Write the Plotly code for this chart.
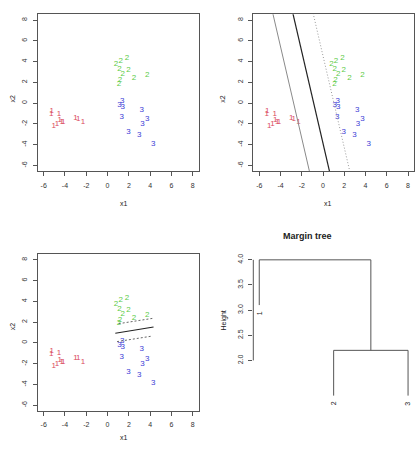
import plotly.graph_objects as go

# ---------------- data ----------------
class_labels = ["1", "2", "3"]
class_colors = ["#DA4A5E", "#5CCB48", "#3C3CD6"]

x1_class1 = [-5.25, -5.3, -4.55, -4.5, -4.3, -4.15, -4.75, -5.05, -3.0, -2.75, -2.3]
x2_class1 = [-0.75, -1.05, -1.0, -1.6, -1.8, -1.85, -2.0, -2.2, -1.45, -1.5, -1.85]
x1_class2 = [1.83, 1.23, 0.79, 1.11, 1.96, 1.42, 2.49, 3.72, 1.17, 1.08]
x2_class2 = [4.37, 4.11, 3.76, 3.28, 3.18, 2.80, 2.41, 2.70, 2.25, 1.87]
x1_class3 = [1.39, 1.11, 1.42, 3.22, 1.33, 3.72, 3.28, 1.96, 2.97, 4.29]
x2_class3 = [0.23, -0.19, -0.38, -0.61, -1.34, -1.54, -1.99, -2.76, -3.08, -3.91]

# panel 2: separating line (1 vs rest) and its margins: x2 = intercept + slope * x1
sep_slope = -4.414
sep_intercepts = [-12.2, -3.87, 4.55]

# panel 3: separating line (2 vs 3) segments and margins
seg_x_start = [0.89, 0.73, 1.05]
seg_x_end = [4.22, 4.32, 4.22]
seg_y_start = [0.12, 0.92, 1.85]
seg_y_end = [0.66, 1.53, 2.36]

# panel 4: margin tree
leaf_labels = ["1", "2", "3"]
merge_heights = [2.2, 4.0]   # (2,3) then (1,(2,3))
hang = 0.9

axis_ticks = [-6, -4, -2, 0, 2, 4, 6, 8]
height_ticks = [2.0, 2.5, 3.0, 3.5, 4.0]

# ---------------- figure ----------------
W, H = 418, 450
FONT = "Liberation Sans, Arial, sans-serif"
LINE = "#555555"

def px_x(p):
    return p / W

def px_y(p):
    return 1 - p / H

dom_left = [px_x(37.7), px_x(198.7)]
dom_right = [px_x(253.3), px_x(414.0)]
dom_top = [px_y(171.3), px_y(14.3)]
dom_bot = [px_y(411.0), px_y(254.0)]

fig = go.Figure()

xs = [x1_class1, x1_class2, x1_class3]
ys = [x2_class1, x2_class2, x2_class3]

for k in ["", "2", "3"]:
    for i in range(3):
        fig.add_trace(go.Scatter(
            x=xs[i], y=ys[i], mode="text",
            text=[class_labels[i]] * len(xs[i]),
            textfont=dict(color=class_colors[i], size=8, family=FONT),
            xaxis="x" + k, yaxis="y" + k, showlegend=False, hoverinfo="skip"))

# panel 2 lines
line_styles2 = [dict(color="#8a8a8a", width=1, dash="solid"),
                dict(color="#222222", width=1.2, dash="solid"),
                dict(color="#999999", width=1, dash="1px,2px")]
for a, st in zip(sep_intercepts, line_styles2):
    yy = [-10, 12]
    xx = [(v - a) / sep_slope for v in yy]
    fig.add_trace(go.Scatter(x=xx, y=yy, mode="lines", line=st,
                             xaxis="x2", yaxis="y2", showlegend=False, hoverinfo="skip"))

# panel 3 segments
line_styles3 = [dict(color="#555555", width=0.9, dash="2px,2px"),
                dict(color="#222222", width=1.1, dash="solid"),
                dict(color="#555555", width=0.9, dash="2px,2px")]
for xa, xb, ya, yb, st in zip(seg_x_start, seg_x_end, seg_y_start, seg_y_end, line_styles3):
    fig.add_trace(go.Scatter(x=[xa, xb], y=[ya, yb], mode="lines", line=st,
                             xaxis="x3", yaxis="y3", showlegend=False, hoverinfo="skip"))

# panel 4 dendrogram
pos = {lab: i + 1 for i, lab in enumerate(leaf_labels)}
h23, h_top = merge_heights
x23 = (pos["2"] + pos["3"]) / 2
seg_tree = [
    ([pos["2"], pos["2"], pos["3"], pos["3"]], [h23 - hang, h23, h23, h23 - hang]),
    ([pos["1"], pos["1"], x23, x23], [h_top - hang, h_top, h_top, h23]),
]
for sx, sy in seg_tree:
    fig.add_trace(go.Scatter(x=sx, y=sy, mode="lines", line=dict(color=LINE, width=1),
                             xaxis="x4", yaxis="y4", showlegend=False, hoverinfo="skip"))

# axes
def sc_axis(dom, anchor, is_y):
    d = dict(domain=dom, anchor=anchor, range=[-6.56, 8.56],
             tickvals=axis_ticks, ticktext=[str(t) for t in axis_ticks],
             showline=True, mirror=True, linecolor=LINE, linewidth=1,
             ticks="outside", ticklen=4, tickcolor=LINE, tickwidth=1,
             tickfont=dict(size=7, family=FONT, color="#333333"),
             zeroline=False, showgrid=False, fixedrange=True,
             ticklabelstandoff=3)
    if is_y:
        d["tickangle"] = -90
    return d

fig.update_layout(
    width=W, height=H, margin=dict(l=0, r=0, t=0, b=0),
    paper_bgcolor="white", plot_bgcolor="white", showlegend=False,
    xaxis=sc_axis(dom_left, "y", False), yaxis=sc_axis(dom_top, "x", True),
    xaxis2=sc_axis(dom_right, "y2", False), yaxis2=sc_axis(dom_top, "x2", True),
    xaxis3=sc_axis(dom_left, "y3", False), yaxis3=sc_axis(dom_bot, "x3", True),
    xaxis4=dict(domain=dom_right, anchor="y4", range=[0.92, 3.08], visible=False, fixedrange=True),
    yaxis4=dict(domain=dom_bot, anchor="x4", range=[0.994, 4.116],
                tickvals=height_ticks, ticktext=["%.1f" % t for t in height_ticks],
                showline=False, ticks="outside", ticklen=4, tickcolor=LINE,
                tickfont=dict(size=7, family=FONT, color="#333333"), tickangle=-90,
                zeroline=False, showgrid=False, fixedrange=True, ticklabelstandoff=3),
)

# dendrogram axis line (only over the tick range)
fig.add_shape(type="line", xref="x4 domain", yref="y4", x0=0, x1=0,
              y0=min(height_ticks), y1=max(height_ticks), line=dict(color=LINE, width=1))

ann = []
def add_text(x, y, t, size=7, angle=0, bold=False, **kw):
    ann.append(dict(x=x, y=y, xref=kw.pop("xref", "paper"), yref=kw.pop("yref", "paper"),
                    text=("<b>%s</b>" % t) if bold else t, showarrow=False,
                    textangle=angle, font=dict(size=size, family=FONT, color="#222222"), **kw))

# axis titles
add_text(sum(dom_left) / 2, px_y(203.3), "x1")
add_text(sum(dom_right) / 2, px_y(203.3), "x1")
add_text(sum(dom_left) / 2, px_y(443.3), "x1")
add_text(px_x(7.3), sum(dom_top) / 2, "x2", angle=-90)
add_text(px_x(223.0), sum(dom_top) / 2, "x2", angle=-90)
add_text(px_x(7.3), sum(dom_bot) / 2, "x2", angle=-90)
add_text(px_x(223.0), sum(dom_bot) / 2, "Height", angle=-90)
add_text(px_x(334.0), px_y(236.0), "Margin tree", size=9, bold=True)

# leaf labels
leaf_ends = {"1": h_top - hang, "2": h23 - hang, "3": h23 - hang}
for lab in leaf_labels:
    add_text(pos[lab], leaf_ends[lab], lab, angle=-90, xref="x4", yref="y4",
             yanchor="top", yshift=-4)

fig.update_layout(annotations=ann)
fig.write_html("out.html")
